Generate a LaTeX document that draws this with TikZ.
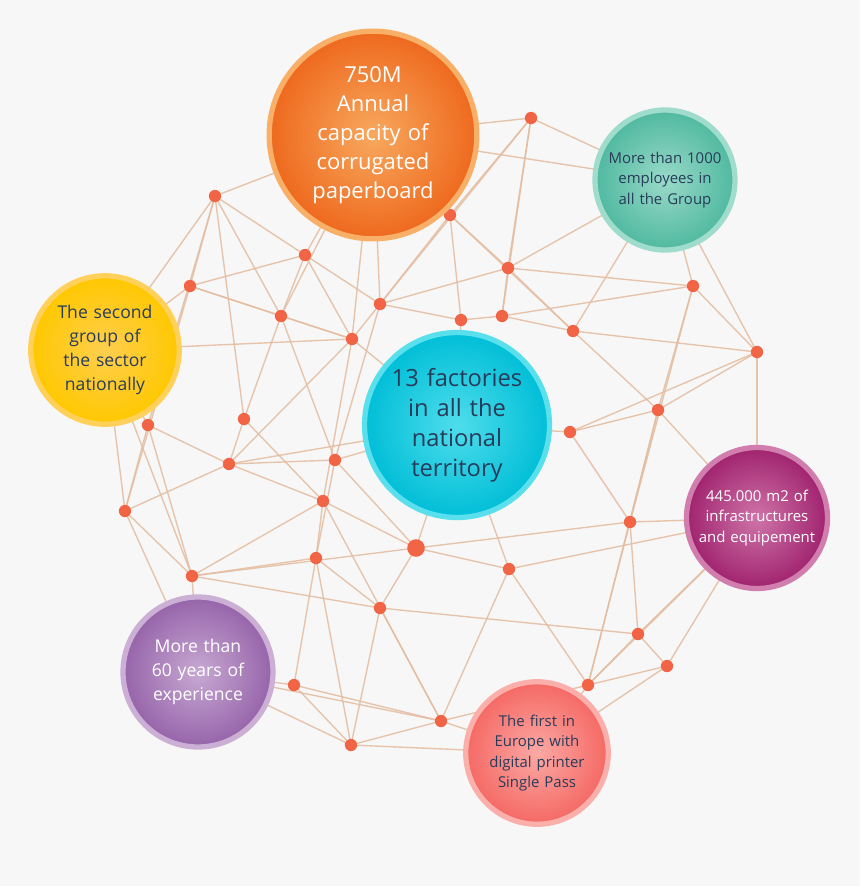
\documentclass[tikz,border=0pt]{standalone}
\usepackage{fontspec}
\setmainfont{Open Sans}
\hyphenpenalty=10000
\definecolor{bgc}{RGB}{247,247,247}
\definecolor{linkc}{RGB}{228,188,160}
\definecolor{dotc}{RGB}{242,100,70}
\definecolor{orgA}{RGB}{245,140,40}\definecolor{orgB}{RGB}{238,105,30}
\definecolor{tealA}{RGB}{120,205,182}\definecolor{tealB}{RGB}{80,185,160}
\definecolor{yelA}{RGB}{255,190,20}\definecolor{yelB}{RGB}{255,200,0}
\definecolor{cyaA}{RGB}{20,210,230}\definecolor{cyaB}{RGB}{0,190,215}
\definecolor{magA}{RGB}{190,70,140}\definecolor{magB}{RGB}{160,35,110}
\definecolor{purA}{RGB}{180,140,195}\definecolor{purB}{RGB}{150,100,170}
\definecolor{salA}{RGB}{250,140,135}\definecolor{salB}{RGB}{245,105,100}
\definecolor{navy}{RGB}{40,60,90}
\tikzset{
  dot/.style={circle, fill=dotc, inner sep=0pt, minimum size=7pt},
  link/.style={linkc, line width=0.8pt, opacity=0.85},
  bubble/.style args={#1/#2/#3}{circle, minimum size=#1, fill=#2A,
    draw=#2A!70!white, line width=3pt, inner color=#2A!75!white, outer color=#2B,
    align=center, text width=0.82*#1, inner sep=0pt, font=#3},
}
\begin{document}
\begin{tikzpicture}[x=0.02cm, y=-0.02cm]
  \fill[bgc] (0,0) rectangle (860,886);
  \useasboundingbox (0,0) rectangle (860,886);

  % anchors of the bubbles
  \coordinate (cO) at (373,135);
  \coordinate (cT) at (665,180);
  \coordinate (cY) at (105,350);
  \coordinate (cC) at (457,425);
  \coordinate (cM) at (757,518);
  \coordinate (cP) at (198,672);
  \coordinate (cS) at (537,753);

  % dots
  \foreach \n/\x/\y in {1/531/118, 2/215/196, 3/450/215, 4/305/255, 5/508/268,
      6/190/286, 7/693/286, 8/380/304, 9/281/316, 10/461/320, 11/502/316,
      12/573/331, 13/352/339, 14/757/352, 15/658/410, 16/244/419, 17/148/425,
      18/570/432, 19/335/460, 20/229/464, 21/323/501, 22/125/511, 23/630/522,
      24/416/548, 25/316/558, 26/509/569, 27/192/576, 28/380/608, 29/638/634,
      30/667/666, 31/588/685, 32/294/685, 33/441/721, 34/351/745}
    \coordinate (d\n) at (\x,\y);

  % links
  \foreach \a/\b in {cO/d1, cO/cT, cO/d2, cO/d3, cO/d4, cO/d8, cO/d13, cO/d9,
      d1/cT, d1/d3, d1/d5, d1/d11, d1/d8, d2/d6, d2/d4, d2/d9, d2/d16, d2/cY, d2/d17,
      d3/d5, d3/d10, d3/d12, d3/d8, d4/d6, d4/d8, d4/d13, d4/d9,
      d5/cT, d5/d7, d5/d12, d5/d11, d5/d8, d6/d9, d6/cY, d6/d13, d6/d22,
      d7/cT, d7/d14, d7/d15, d7/d11, d7/d23, d8/d13, d8/d10, d8/d19,
      d9/d13, d9/d16, d9/d19, d10/d11, d10/cC, d11/d12, d12/d14, d12/cT, d12/d15,
      d13/cY, d13/cC, d13/d20, d13/d21, d14/d15, d14/d18, d14/cM, d14/cT,
      d15/cM, d15/d18, d15/d23, d15/d31, d16/d20, d16/d21, d17/cY, d17/d20, d17/d22, d17/d27,
      d18/cC, d18/d23, d19/d20, d19/d24, d19/d25, d19/cC, d20/d22, d20/d21, d20/cC,
      d21/d25, d21/d24, d21/d27, d21/d33, d22/d27, d22/cP, d22/cY,
      d23/d24, d23/d29, d23/d31, d23/cM, d24/d26, d24/d28, d24/d27, d24/cC,
      d25/d28, d25/d32, d25/d27, d25/d34, d26/d33, d26/d31, d26/cM, d26/cC,
      d27/cP, d27/d28, d27/cY, d28/d29, d28/d33, d28/d34, d29/d30, d29/d31, d29/cM,
      d30/cM, d30/d31, d30/cS, d31/cS, d31/d33, d31/cM, d32/cP, d32/d34, d32/d33,
      d33/d34, d33/cS, d33/cP, d34/cP, d34/cS}
    \draw[link] (\a) -- (\b);

  \foreach \n in {1,...,34}
    \node[dot] (p\n) at (d\n) {};
  \node[dot, minimum size=10pt] at (d24) {};

  % bubbles
  \node[bubble={3.7cm/cya/\fontsize{13.5}{17}\selectfont\color{navy}}, text width=2.7cm] (bC) at (cC)
    {13 factories in all the national territory};
  \node[bubble={3.8cm/org/\fontsize{12.5}{16.5}\selectfont\color{white}}] (bO) at (cO)
    {750M\\Annual capacity of corrugated paperboard};
  \node[bubble={2.8cm/teal/\fontsize{8.5}{11.5}\selectfont\color{navy}}] (bT) at (cT)
    {More than 1000 employees in all the Group};
  \node[bubble={2.9cm/yel/\fontsize{10}{13.5}\selectfont\color{navy}}] (bY) at (cY)
    {The second group of the sector nationally};
  \node[bubble={2.8cm/mag/\fontsize{8.5}{11.5}\selectfont\color{white}}, text width=2.6cm] (bM) at (cM)
    {445.000 m2 of infrastructures and equipement};
  \node[bubble={3.0cm/pur/\fontsize{10}{13.5}\selectfont\color{white}}, text width=2.3cm] (bP) at (cP)
    {More than 60 years of experience};
  \node[bubble={2.85cm/sal/\fontsize{8.5}{11.5}\selectfont\color{navy}}, text width=2.2cm] (bS) at (cS)
    {The first in Europe with digital printer Single Pass};
\end{tikzpicture}
\end{document}
